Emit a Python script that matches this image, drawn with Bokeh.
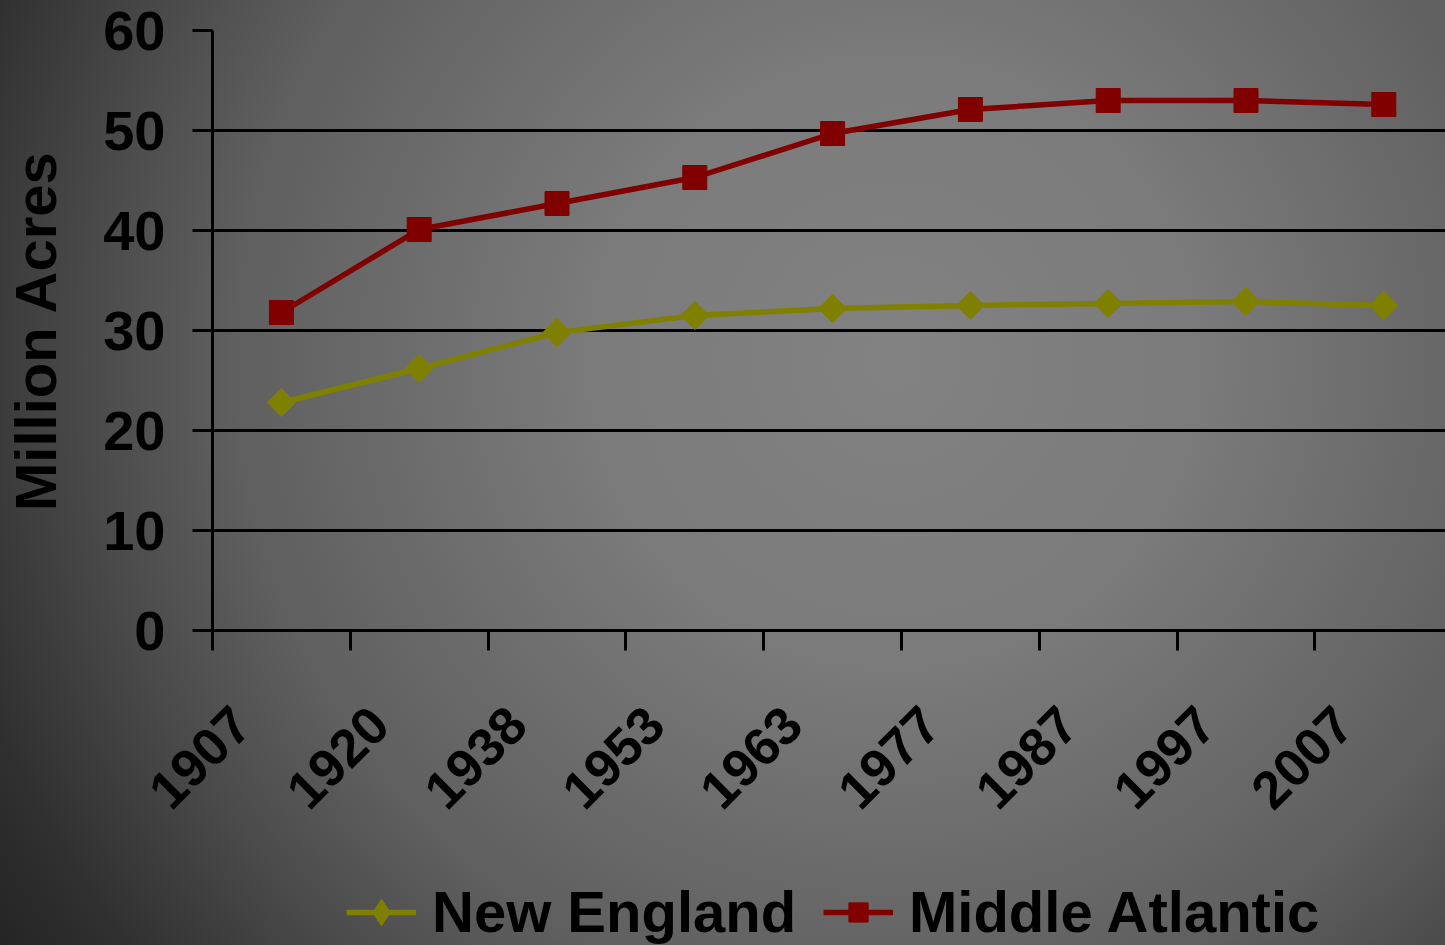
import numpy as np
from bokeh.plotting import figure
from bokeh.layouts import column
from bokeh.models import (Range1d, FixedTicker, Legend, LegendItem,
                          GlobalInlineStyleSheet)
from bokeh.embed import file_html
from bokeh.resources import INLINE

# ---- data ----
years = ["1907", "1920", "1938", "1953", "1963", "1977", "1987", "1997", "2007"]
new_england = [22.8, 26.2, 29.8, 31.5, 32.2, 32.5, 32.7, 32.9, 32.5]
middle_atlantic = [31.8, 40.1, 42.7, 45.3, 49.7, 52.1, 53.0, 53.0, 52.6]
y_ticks = [0, 10, 20, 30, 40, 50, 60]
series_names = ["New England", "Middle Atlantic"]

# ---- styles ----
FONT = "Liberation Sans"
FS = "56px"
NE_COLOR = "#808000"
MA_COLOR = "#800000"
LABEL_SHIFT = 0.29
CAT_PX = 137.8

x = [i + 0.5 for i in range(len(years))]
boundaries = [float(i) for i in range(len(years) + 1)]
label_pos = [round(v - LABEL_SHIFT, 4) for v in x]

grad = ("radial-gradient(circle at 894px 361px, #828282 0px, #7b7b7b 300px, "
        "#5f5f5f 660px, #4b4b4b 800px, #303030 965px, #242424 1070px)")

W = 1445
H_MAIN, H_LEG = 865, 80
LEFT, TOP, BOTTOM = 212, 30, 235

p = figure(width=W, height=H_MAIN, output_backend="svg", toolbar_location=None,
           x_range=Range1d(0, (W - LEFT) / CAT_PX), y_range=Range1d(0, 60),
           min_border_left=LEFT, min_border_top=TOP, min_border_right=0,
           min_border_bottom=BOTTOM)
p.background_fill_alpha = 0
p.border_fill_alpha = 0
p.outline_line_color = None
p.stylesheets = [GlobalInlineStyleSheet(
    css="html{min-height:100%;background:" + grad + ";} body{background:transparent;}")]

# grid
p.xgrid.visible = False
p.ygrid.grid_line_color = "black"
p.ygrid.grid_line_width = 3
p.ygrid.ticker = FixedTicker(ticks=y_ticks, minor_ticks=[])

# y axis
ya = p.yaxis[0]
ya.ticker = FixedTicker(ticks=y_ticks, minor_ticks=[])
ya.axis_line_color = "black"
ya.axis_line_width = 3
ya.major_tick_line_color = "black"
ya.major_tick_line_width = 3
ya.major_tick_out = 20
ya.major_tick_in = 0
ya.minor_tick_line_color = None
ya.major_label_text_font = FONT
ya.major_label_text_font_size = FS
ya.major_label_text_font_style = "bold"
ya.major_label_text_color = "black"
ya.major_label_standoff = 27
ya.axis_label = "Million Acres"
ya.axis_label_text_font = FONT
ya.axis_label_text_font_size = "58px"
ya.axis_label_text_font_style = "bold"
ya.axis_label_text_color = "black"
ya.axis_label_standoff = 32

# x axis
xa = p.xaxis[0]
xa.ticker = FixedTicker(ticks=label_pos, minor_ticks=boundaries)
xa.major_label_overrides = {v: y for v, y in zip(label_pos, years)}
xa.major_label_orientation = np.pi / 4
xa.major_tick_line_color = None
xa.major_tick_out = 0
xa.major_tick_in = 0
xa.minor_tick_line_color = "black"
xa.minor_tick_line_width = 3
xa.minor_tick_out = 20
xa.minor_tick_in = 0
xa.axis_line_color = "black"
xa.axis_line_width = 3
xa.major_label_text_font = FONT
xa.major_label_text_font_size = "53px"
xa.major_label_text_font_style = "bold"
xa.major_label_text_color = "black"
xa.major_label_standoff = 65

# series
p.line(x, new_england, line_color=NE_COLOR, line_width=5.5)
p.scatter(x, new_england, marker="square", angle=np.pi / 4, size=20,
          fill_color=NE_COLOR, line_color=NE_COLOR)
p.line(x, middle_atlantic, line_color=MA_COLOR, line_width=5.5)
p.scatter(x, middle_atlantic, marker="square", size=24,
          fill_color=MA_COLOR, line_color=MA_COLOR)

# ---- legend strip (frame aligned with main plot's frame) ----
q = figure(width=W, height=H_LEG, output_backend="svg", toolbar_location=None,
           x_range=Range1d(0, 1), y_range=Range1d(0, 1), min_border=0)
q.axis.visible = False
q.grid.visible = False
q.background_fill_alpha = 0
q.border_fill_alpha = 0
q.outline_line_color = None

# legend-key renderers (their data lies outside this strip's ranges, so only the keys show)
lq1 = q.line(x, new_england, line_color=NE_COLOR, line_width=5.5)
sq1 = q.scatter(x, new_england, marker="diamond", size=28, fill_color=NE_COLOR, line_color=NE_COLOR)
lq2 = q.line(x, middle_atlantic, line_color=MA_COLOR, line_width=5.5)
sq2 = q.scatter(x, middle_atlantic, marker="square", size=20, fill_color=MA_COLOR, line_color=MA_COLOR)

common = dict(orientation="horizontal", glyph_width=70, label_standoff=16,
              padding=0, margin=0, border_line_color=None,
              background_fill_alpha=0, label_text_font=FONT,
              label_text_font_size="58px", label_text_font_style="bold",
              label_text_color="black")

legend_ne = Legend(items=[LegendItem(label=series_names[0], renderers=[lq1, sq1])],
                   location=(134, 0), glyph_height=66, **common)
legend_ma = Legend(items=[LegendItem(label=series_names[1], renderers=[lq2, sq2])],
                   location=(611, 0), glyph_height=48, **common)
q.add_layout(legend_ne)
q.add_layout(legend_ma)

layout = column(p, q, spacing=0)
open("out.html", "w").write(file_html(layout, INLINE))
